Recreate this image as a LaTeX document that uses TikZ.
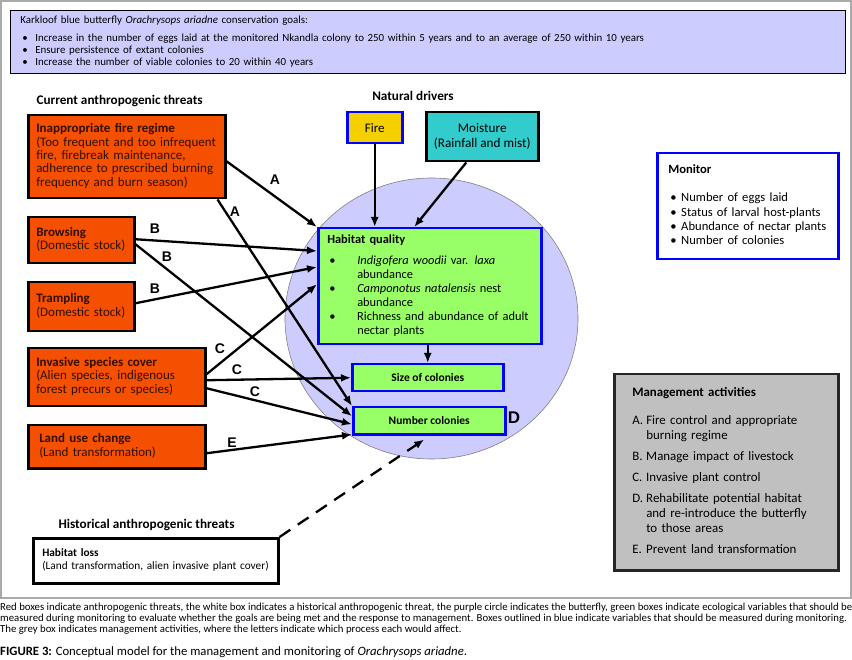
\documentclass[tikz,border=0pt]{standalone}
\usepackage{fontspec}
\setmainfont{Carlito}
\newfontfamily\lblfont{Liberation Sans}
\usetikzlibrary{arrows.meta,shapes.geometric}

\definecolor{threatred}{RGB}{245,80,0}
\definecolor{threattext}{RGB}{50,15,0}
\definecolor{habgreen}{RGB}{153,255,102}
\definecolor{goallilac}{RGB}{204,204,255}
\definecolor{fireyellow}{RGB}{245,208,0}
\definecolor{moistteal}{RGB}{51,204,204}
\definecolor{mgmtgrey}{RGB}{192,192,192}
\definecolor{framegrey}{RGB}{170,170,170}

\newcommand{\setfs}[2]{\fontsize{#1}{#2}\selectfont}
\newcommand{\bul}[1]{\makebox[#1][l]{\textbullet}}
% lines that never wrap
\newcommand{\boxlines}[1]{\begin{tabular}{@{}l@{}}#1\end{tabular}}

\begin{document}
\begin{tikzpicture}[x=1pt,y=-1pt,
  box/.style={anchor=north west, align=left, inner ysep=0pt, line width=2.5pt},
  threat/.style={box, draw=black, fill=threatred, text=threattext, inner xsep=8pt, font=\setfs{13}{13.3}},
  measured/.style={box, draw=blue, fill=habgreen, inner xsep=9pt},
  header/.style={font=\bfseries\setfs{13.2}{15}},
  conn/.style={line width=2.3pt, -{Latex[length=10pt,width=8pt]}},
  lbl/.style={font=\lblfont\bfseries\setfs{14}{16}},
  caption/.style={anchor=west, inner sep=0pt, font=\setfs{10.75}{12}}]

\useasboundingbox (0,0) rectangle (852,660);

% frame round the figure
\draw[framegrey, line width=1.5pt] (1,1) rectangle (851,598);

% goals
\node[box, draw=black, line width=0.8pt, fill=goallilac, inner xsep=10pt,
  minimum width=835, minimum height=63, text width=815pt, font=\setfs{10.9}{12}] (goals) at (10,10)
  {Karkloof blue butterfly \textit{Orachrysops ariadne} conservation goals:\\[6pt]
   \hspace*{2pt}\bul{13pt}Increase in the number of eggs laid at the monitored Nkandla colony to 250 within 5 years and to an average of 250 within 10 years\\
   \hspace*{2pt}\bul{13pt}Ensure persistence of extant colonies\\
   \hspace*{2pt}\bul{13pt}Increase the number of viable colonies to 20 within 40 years};

% the butterfly
\node[ellipse, draw=gray, line width=0.6pt, fill=goallilac, minimum width=293, minimum height=281] (butterfly) at (431.5,318.5) {};

% headers
\node[header, anchor=west] (curhead) at (33,101) {Current anthropogenic threats};
\node[header] (nathead) at (413,96) {Natural drivers};
\node[header, anchor=west] (histhead) at (55,525) {Historical anthropogenic threats};

% current threats
\node[threat, minimum width=197, minimum height=83, text width=181pt] (fireregime) at (27,114)
  {\boxlines{\textbf{Inappropriate fire regime}\\(Too frequent and too infrequent\\fire, firebreak maintenance,\\adherence to prescribed burning\\frequency and burn season)}};
\node[threat, minimum width=106, minimum height=46, text width=90pt] (browsing) at (27,216)
  {\boxlines{\textbf{Browsing}\\(Domestic stock)}};
\node[threat, minimum width=106, minimum height=49, text width=90pt] (trampling) at (27,281)
  {\boxlines{\textbf{Trampling}\\(Domestic stock)}};
\node[threat, minimum width=177, minimum height=58, text width=161pt] (invasive) at (27,347)
  {\boxlines{\textbf{Invasive species cover}\\(Alien species, indigenous\\forest precurs or species)}};
\node[threat, inner xsep=11pt, minimum width=177, minimum height=43, text width=155pt] (landuse) at (27,424)
  {\boxlines{\textbf{Land use change}\\(Land transformation)}};

% natural drivers
\node[box, draw=blue, fill=fireyellow, align=center, minimum width=55, minimum height=31, font=\setfs{13}{14}] (fire) at (346,111) {Fire};
\node[box, draw=black, fill=moistteal, align=center, minimum width=112, minimum height=49, font=\setfs{13.2}{15}] (moisture) at (425,111)
  {Moisture\\(Rainfall and mist)};

% ecological variables
\node[measured, minimum width=223, minimum height=116, text width=205pt, font=\setfs{12.4}{14}] (habitat) at (317,227)
  {\boxlines{\textbf{Habitat quality}\\[7pt]
   \hspace*{2pt}\bul{28pt}\textit{Indigofera woodii} var. \textit{laxa}\\
   \hspace*{30pt}abundance\\
   \hspace*{2pt}\bul{28pt}\textit{Camponotus natalensis} nest\\
   \hspace*{30pt}abundance\\
   \hspace*{2pt}\bul{28pt}Richness and abundance of adult\\
   \hspace*{30pt}nectar plants}};
\node[measured, align=center, minimum width=151, minimum height=27, font=\bfseries\setfs{11.5}{13}] (size) at (351,363) {Size of colonies};
\node[measured, align=center, minimum width=152, minimum height=27, font=\bfseries\setfs{11.5}{13}] (number) at (352,406) {Number colonies};

% historical threat
\node[box, draw=black, fill=white, inner xsep=9pt, minimum width=245, minimum height=45, text width=227pt, font=\setfs{11.3}{13}] (habloss) at (32,537)
  {\boxlines{\textbf{Habitat loss}\\(Land transformation, alien invasive plant cover)}};

% monitor and management
\node[box, draw=blue, fill=white, inner xsep=11pt, minimum width=181, minimum height=106, text width=159pt, font=\setfs{12.6}{14.3}] (monitor) at (656,152)
  {\boxlines{\textbf{Monitor}\\[14pt]
   \hspace*{2pt}\bul{11pt}Number of eggs laid\\
   \hspace*{2pt}\bul{11pt}Status of larval host-plants\\
   \hspace*{2pt}\bul{11pt}Abundance of nectar plants\\
   \hspace*{2pt}\bul{11pt}Number of colonies}};
\node[box, draw=black!85, fill=mgmtgrey, inner xsep=18pt, minimum width=224, minimum height=196, text width=188pt, font=\setfs{12.9}{15}] (mgmt) at (613,373)
  {\boxlines{\textbf{Management activities}\\[13pt]
   \makebox[14pt][l]{A.}Fire control and appropriate\\
   \hspace*{14pt}burning regime\\[6pt]
   \makebox[14pt][l]{B.}Manage impact of livestock\\[6pt]
   \makebox[14pt][l]{C.}Invasive plant control\\[6pt]
   \makebox[14pt][l]{D.}Rehabilitate potential habitat\\
   \hspace*{14pt}and re-introduce the butterfly\\
   \hspace*{14pt}to those areas\\[6pt]
   \makebox[14pt][l]{E.}Prevent land transformation}};

% threats to habitat and colonies
\draw[conn] ([yshift=-4.5pt]fireregime.east) -- (habitat.north west);
\draw[conn] ([xshift=-9pt]fireregime.south east) -- (number.north west);
\draw[conn] ([yshift=1pt]browsing.east) -- ([yshift=-24pt]habitat.north west);
\draw[conn] ([yshift=-4pt]browsing.east) -- ([yshift=4.5pt]number.west);
\draw[conn] ([yshift=3.5pt]trampling.east) -- ([yshift=-40pt]habitat.north west);
\draw[conn] ([yshift=3pt]invasive.east) -- ([yshift=2pt]habitat.west);
\draw[conn] ([yshift=-3pt]invasive.east) -- (size.west);
\draw[conn] ([yshift=-11pt]invasive.east) -- ([yshift=-3.5pt]number.west);
\draw[conn] ([yshift=-6.5pt]landuse.east) -- ([yshift=1pt]number.south west);

% natural drivers and colonies
\draw[conn] (fire.south) -- (fire.south |- habitat.north);
\draw[conn] ([xshift=-16pt]moisture.south) -- ([xshift=-15.5pt]habitat.north);
\draw[conn] (size.north |- habitat.south) -- (size.north);
\draw[conn, dash pattern=on 13pt off 9pt] (habloss.north east) -- ([xshift=-5pt,yshift=-4pt]number.south);

% management letters
\node[lbl] (lA1) at (275,180) {A};
\node[lbl] (lA2) at (235,212) {A};
\node[lbl] (lB1) at (155,229) {B};
\node[lbl] (lB2) at (167,257) {B};
\node[lbl] (lB3) at (155,289) {B};
\node[lbl] (lC1) at (220,349) {C};
\node[lbl] (lC2) at (237,370) {C};
\node[lbl] (lC3) at (255,392) {C};
\node[lbl] (lE) at (232,443) {E};
\node[lbl, font=\lblfont\bfseries\setfs{17}{19}] (lD) at (514,418) {D};

% caption
\node[caption] (capa) at (0,608) {Red boxes indicate anthropogenic threats, the white box indicates a historical anthropogenic threat, the purple circle indicates the butterfly, green boxes indicate ecological variables that should be};
\node[caption] (capb) at (0,619) {measured during monitoring to evaluate whether the goals are being met and the response to management. Boxes outlined in blue indicate variables that should be measured during monitoring.};
\node[caption] (capc) at (0,630) {The grey box indicates management activities, where the letters indicate which process each would affect.};
\node[caption, font=\setfs{12.7}{14}] (capd) at (0,652) {\textbf{FIGURE 3:} Conceptual model for the management and monitoring of \textit{Orachrysops ariadne}.};
\end{tikzpicture}
\end{document}
